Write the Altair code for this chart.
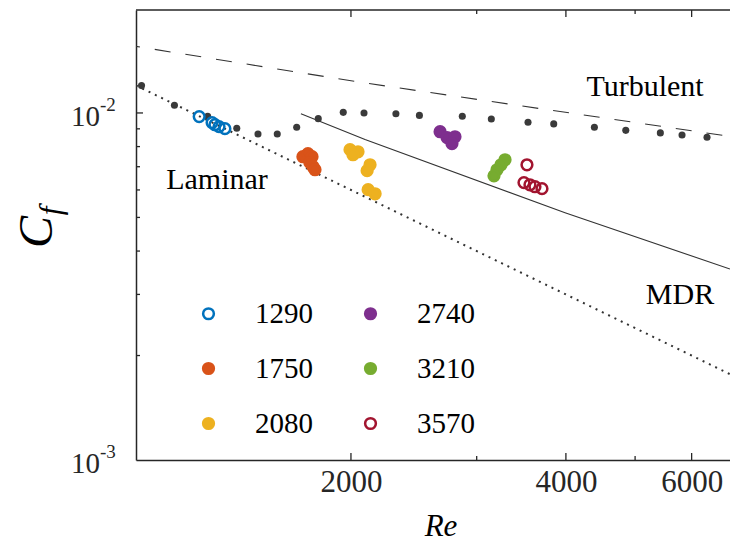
import altair as alt
import pandas as pd

FONT = "Liberation Serif"
INK = "#262626"

# Polymer-solution runs, labelled by group value
groups = ["1290", "1750", "2080", "2740", "3210", "3570"]
colours = ["#0072BD", "#D95319", "#EDB120", "#7E2F8E", "#77AC30", "#A2142F"]
hollow = [True, False, False, False, False, True]

re_1290 = [1226, 1278, 1290, 1307, 1332]
cf_1290 = [0.00976, 0.00938, 0.00925, 0.00913, 0.00901]
re_1750 = [1713, 1741, 1764, 1752, 1770, 1781]
cf_1750 = [0.00748, 0.00763, 0.00748, 0.00719, 0.00700, 0.00686]
re_2080 = [1994, 2046, 2013, 2127, 2107, 2114, 2162]
cf_2080 = [0.00784, 0.00773, 0.00758, 0.00709, 0.00682, 0.00601, 0.00585]
re_2740 = [2666, 2727, 2797, 2770]
cf_2740 = [0.00883, 0.00849, 0.00854, 0.00816]
re_3210 = [3287, 3245, 3203, 3172]
cf_3210 = [0.00733, 0.00709, 0.00686, 0.00659]
re_3570 = [3528, 3494, 3562, 3620, 3703]
cf_3570 = [0.00709, 0.00630, 0.00621, 0.00613, 0.00605]

# Newtonian solvent reference points
re_newt = [1018, 1132, 1260, 1384, 1482, 1577, 1679, 1800, 1951, 2086, 2312,
           2494, 2864, 3145, 3540, 3846, 4385, 4852, 5424, 5817, 6305]
cf_newt = [0.01199, 0.01052, 0.00978, 0.00903, 0.00870, 0.00870, 0.00909,
           0.00963, 0.01004, 0.01000, 0.00995, 0.00984, 0.00978, 0.00961,
           0.00940, 0.00930, 0.00909, 0.00891, 0.00876, 0.00864, 0.00851]

# Reference curves
re_lam = [1000, 6790]
cf_lam = [0.012, 0.001767]
re_turb = [1000, 2093, 6790]
cf_turb = [0.01555, 0.0122, 0.00856]
re_mdr = [1702, 2093, 3989, 6790]
cf_mdr = [0.00995, 0.00838, 0.00516, 0.00355]

# Axis ticks and labels
x_domain = [1000, 6790]
y_domain = [0.001, 0.0198]
x_major = [2000, 4000, 6000]
x_minor = [3000, 5000]
y_major = [0.01]
y_minor = [0.002, 0.003, 0.004, 0.005, 0.006, 0.007, 0.008, 0.009]
y_label_vals = [0.001, 0.01]
y_label_exps = ["-3", "-2"]

W, H = 594, 450

xscale = alt.Scale(type="log", domain=x_domain, nice=False)
yscale = alt.Scale(type="log", domain=y_domain, nice=False)
xaxis = alt.Axis(values=x_major, ticks=False, grid=False, title=None,
                 labelFont=FONT, labelFontSize=31, labelColor=INK,
                 labelPadding=7, domainColor=INK, domainWidth=1.5,
                 labelFlush=False, format="d")
yaxis = alt.Axis(labels=False, ticks=False, grid=False, title=None,
                 domainColor=INK, domainWidth=1.5)


def X(field):
    return alt.X(f"{field}:Q", scale=xscale, axis=xaxis)


def Y(field):
    return alt.Y(f"{field}:Q", scale=yscale, axis=yaxis)


def line_df(re, cf):
    return pd.DataFrame({"Re": re, "Cf": cf, "i": list(range(len(re)))})


pts = []
for g, re, cf in zip(groups, [re_1290, re_1750, re_2080, re_2740, re_3210, re_3570],
                     [cf_1290, cf_1750, cf_2080, cf_2740, cf_3210, cf_3570]):
    for r, c in zip(re, cf):
        pts.append({"Wi": g, "Re": r, "Cf": c})
pts = pd.DataFrame(pts)

fill_rng = ["transparent" if h else c for h, c in zip(hollow, colours)]

legend = alt.Legend(title=None, orient="none", legendX=58, legendY=289,
                    columns=2, symbolType="circle", symbolSize=115,
                    symbolStrokeWidth=2.5, labelFont=FONT, labelFontSize=29,
                    labelColor="black", labelOffset=32, rowPadding=25,
                    columnPadding=43, padding=0)

lam = alt.Chart(line_df(re_lam, cf_lam)).mark_line(
    color="#333333", strokeWidth=2, strokeDash=[2, 5], clip=True
).encode(x=X("Re"), y=Y("Cf"), order="i:Q")

turb = alt.Chart(line_df(re_turb, cf_turb)).mark_line(
    color="#333333", strokeWidth=1.1, strokeDash=[16, 15], strokeDashOffset=12,
    clip=True
).encode(x=X("Re"), y=Y("Cf"), order="i:Q")

mdr = alt.Chart(line_df(re_mdr, cf_mdr)).mark_line(
    color="#333333", strokeWidth=1.1, clip=True
).encode(x=X("Re"), y=Y("Cf"), order="i:Q")

newt = alt.Chart(pd.DataFrame({"Re": re_newt, "Cf": cf_newt})).mark_circle(
    color="#3a3a3a", size=50, opacity=1
).encode(x=X("Re"), y=Y("Cf"))

runs = alt.Chart(pts).mark_point(
    shape="circle", size=115, strokeWidth=2.5, opacity=1, fillOpacity=1
).encode(
    x=X("Re"), y=Y("Cf"),
    stroke=alt.Stroke("Wi:N", scale=alt.Scale(domain=groups, range=colours), legend=legend),
    fill=alt.Fill("Wi:N", scale=alt.Scale(domain=groups, range=fill_rng), legend=legend),
)

# inward-pointing ticks on the bottom, top and left frame edges
tick_style = dict(color=INK, strokeWidth=1.3)
bx_major = alt.Chart(pd.DataFrame({"v": x_major})).mark_rule(**tick_style).encode(
    x=X("v"), y=alt.value(H), y2=alt.value(H - 7))
bx_minor = alt.Chart(pd.DataFrame({"v": x_minor})).mark_rule(**tick_style).encode(
    x=X("v"), y=alt.value(H), y2=alt.value(H - 4))
tx_major = alt.Chart(pd.DataFrame({"v": x_major})).mark_rule(**tick_style).encode(
    x=X("v"), y=alt.value(0), y2=alt.value(7))
tx_minor = alt.Chart(pd.DataFrame({"v": x_minor})).mark_rule(**tick_style).encode(
    x=X("v"), y=alt.value(0), y2=alt.value(4))
ly_major = alt.Chart(pd.DataFrame({"v": y_major})).mark_rule(**tick_style).encode(
    y=Y("v"), x=alt.value(0), x2=alt.value(7))
ly_minor = alt.Chart(pd.DataFrame({"v": y_minor})).mark_rule(**tick_style).encode(
    y=Y("v"), x=alt.value(0), x2=alt.value(4))
top_edge = alt.Chart(pd.DataFrame({"v": [0]})).mark_rule(color=INK, strokeWidth=1.5).encode(
    x=alt.value(0), x2=alt.value(W), y=alt.value(0))

# power-of-ten labels on the Cf axis
ylab_df = pd.DataFrame({"v": y_label_vals, "e": y_label_exps})
ylab_base = alt.Chart(ylab_df).mark_text(
    font=FONT, fontSize=29, color=INK, align="right", baseline="middle", dy=4
).encode(y=Y("v"), x=alt.value(-36), text=alt.value("10"))
ylab_exp = alt.Chart(ylab_df).mark_text(
    font=FONT, fontSize=19, color=INK, align="left", baseline="middle", dy=-8
).encode(y=Y("v"), x=alt.value(-36), text="e:N")


def note(txt, px, py, size=30, style="normal", angle=0):
    return alt.Chart(pd.DataFrame({"t": [txt]})).mark_text(
        font=FONT, fontSize=size, fontStyle=style, color="black",
        align="center", baseline="middle", angle=angle
    ).encode(x=alt.value(px), y=alt.value(py), text="t:N")


notes = [
    note("Turbulent", 509, 77),
    note("Laminar", 81, 170),
    note("MDR", 544, 285),
    note("Re", 305, 517, size=31, style="italic"),
    note("C", -98, 222, size=48, style="italic", angle=270),
    note("f", -84, 201, size=31, style="italic", angle=270),
]

chart = alt.layer(
    lam, turb, mdr, newt, runs,
    bx_major, bx_minor, tx_major, tx_minor, ly_major, ly_minor, top_edge,
    ylab_base, ylab_exp, *notes
).properties(
    width=W, height=H,
    autosize=alt.AutoSizeParams(type="none"),
    padding={"left": 136, "top": 10, "right": 0, "bottom": 83},
    background="white",
).configure_view(stroke=None)

chart.save("out.html", embed_options={"renderer": "svg", "actions": False})
